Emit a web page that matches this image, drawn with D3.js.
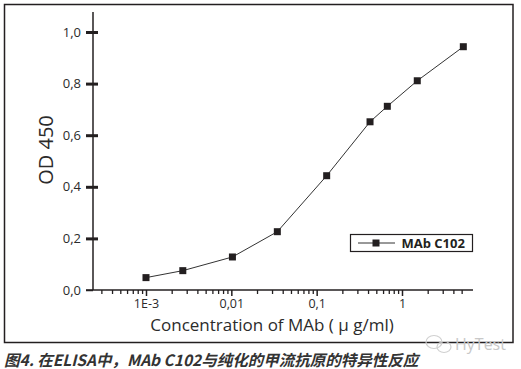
<!DOCTYPE html>
<html>
<head>
<meta charset="utf-8">
<script src="https://cdn.jsdelivr.net/npm/d3@7"></script>
<style>
  html, body { margin: 0; padding: 0; background: #fff; }
  svg { display: block; }
</style>
</head>
<body>
<svg id="chart" width="521" height="369"></svg>
<script>
// ---- data ----
const concentrations = [0.001, 0.0027, 0.0103, 0.0346, 0.131, 0.422, 0.673, 1.51, 5.23];
const odValues = [0.048, 0.075, 0.128, 0.226, 0.443, 0.652, 0.712, 0.811, 0.943];
const seriesName = "MAb C102";
const yTickValues = [0, 0.2, 0.4, 0.6, 0.8, 1.0];
const yTickLabels = ["0,0", "0,2", "0,4", "0,6", "0,8", "1,0"];
const xMajorTicks = [0.001, 0.01, 0.1, 1];
const xMajorLabels = ["1E-3", "0,01", "0,1", "1"];
const xTitle = "Concentration of MAb ( \u03bc g/ml)";
const yTitle = "OD 450";
const caption = "图4. 在ELISA中，MAb C102与纯化的甲流抗原的特异性反应";
const watermark = "HyTest";

// ---- layout ----
const svg = d3.select("#chart");
const font = "'Open Sans', 'Noto Sans', sans-serif";
const ink = "#231f20";

const x = d3.scaleLog().domain([Math.pow(10, -3.621), Math.pow(10, 0.832)]).range([93, 473]);
const y = d3.scaleLinear().domain([0, 1]).range([290, 32]);

// outer frame
svg.append("rect").attr("x", 4.5).attr("y", 4.5).attr("width", 508.5).attr("height", 338)
  .attr("fill", "none").attr("stroke", ink).attr("stroke-width", 1.5);

// minor ticks list
const minorTicks = [];
for (let e = -4; e <= 0; e++) {
  for (let m = 2; m <= 9; m++) {
    const v = m * Math.pow(10, e);
    if (v >= x.domain()[0] && v <= 5.01) minorTicks.push(v);
  }
}

// X axis
const gx = svg.append("g").attr("transform", `translate(0,${y(0)})`);
gx.append("line").attr("x1", 86).attr("x2", 473).attr("y1", 0).attr("y2", 0)
  .attr("stroke", ink).attr("stroke-width", 1.5);
const xMajorAxis = d3.axisBottom(x).tickValues(xMajorTicks)
  .tickFormat((d, i) => xMajorLabels[i]).tickSize(6).tickPadding(3);
const gxMaj = gx.append("g").call(xMajorAxis);
gxMaj.select(".domain").remove();
gxMaj.selectAll(".tick line").attr("stroke", ink).attr("stroke-width", 1.5);
gxMaj.selectAll(".tick text").attr("font-family", font).attr("font-size", 12.5).attr("fill", "#2b2b2b");
const xMinorAxis = d3.axisBottom(x).tickValues(minorTicks).tickFormat("").tickSize(4);
const gxMin = gx.append("g").call(xMinorAxis);
gxMin.select(".domain").remove();
gxMin.selectAll(".tick line").attr("stroke", ink).attr("stroke-width", 1.3);

// Y axis
const gy = svg.append("g").attr("transform", `translate(${x.range()[0]},0)`);
gy.append("line").attr("x1", 0).attr("x2", 0).attr("y1", 12).attr("y2", y(0))
  .attr("stroke", ink).attr("stroke-width", 1.5);
const yAxis = d3.axisLeft(y).tickValues(yTickValues)
  .tickFormat((d, i) => yTickLabels[i]).tickSize(7).tickPadding(6);
const gyA = gy.append("g").call(yAxis);
gyA.select(".domain").remove();
gyA.selectAll(".tick line").attr("stroke", ink).attr("stroke-width", 3).attr("x2", -7).attr("x1", 5)
  .filter(d => d === 0).attr("stroke-width", 1.5).attr("x1", 0);
gyA.selectAll(".tick text").attr("font-family", font).attr("font-size", 13).attr("fill", "#2b2b2b")
  .attr("x", -12);

// line + markers
const pts = concentrations.map((c, i) => [c, odValues[i]]);
svg.append("path").datum(pts)
  .attr("d", d3.line().x(d => x(d[0])).y(d => y(d[1])))
  .attr("fill", "none").attr("stroke", "#333").attr("stroke-width", 1);
svg.append("g").selectAll("rect").data(pts).join("rect")
  .attr("x", d => x(d[0]) - 3.5).attr("y", d => y(d[1]) - 3.5)
  .attr("width", 7).attr("height", 7).attr("fill", ink);

// legend
const lg = svg.append("g");
lg.append("rect").attr("x", 350.5).attr("y", 234.5).attr("width", 122).attr("height", 17)
  .attr("fill", "#fff").attr("stroke", ink).attr("stroke-width", 1.2);
lg.append("line").attr("x1", 358).attr("x2", 395).attr("y1", 243).attr("y2", 243)
  .attr("stroke", "#333").attr("stroke-width", 1);
lg.append("rect").attr("x", 372.5).attr("y", 239.5).attr("width", 7).attr("height", 7).attr("fill", ink);
lg.append("text").attr("x", 401.5).attr("y", 247.5).text(seriesName)
  .attr("font-family", font).attr("font-size", 13).attr("font-weight", "bold").attr("fill", ink);

// axis titles
svg.append("text").attr("x", 272).attr("y", 331).attr("text-anchor", "middle")
  .attr("font-family", font).attr("font-size", 17).attr("fill", "#2b2b2b").text(xTitle);
svg.append("text").attr("transform", "translate(53,150) rotate(-90)").attr("text-anchor", "middle")
  .attr("font-family", font).attr("font-size", 20).attr("fill", "#2b2b2b").text(yTitle);

// watermark
const wm = svg.append("g").attr("fill", "none").attr("stroke", "#d0d0d0").attr("stroke-width", 1.2);
wm.append("ellipse").attr("cx", 434).attr("cy", 342).attr("rx", 8).attr("ry", 6.5);
wm.append("ellipse").attr("cx", 444).attr("cy", 347).attr("rx", 7).attr("ry", 5.5);
svg.append("text").attr("x", 455).attr("y", 350)
  .attr("font-family", font).attr("font-size", 16).attr("fill", "#c8c8c8").text(watermark);

// caption
svg.append("text").attr("x", 4).attr("y", 366)
  .attr("font-family", "'Noto Sans CJK SC', sans-serif").attr("font-size", 15.5)
  .attr("font-weight", "bold").attr("font-style", "italic").attr("fill", "#333").text(caption);
</script>
</body>
</html>
